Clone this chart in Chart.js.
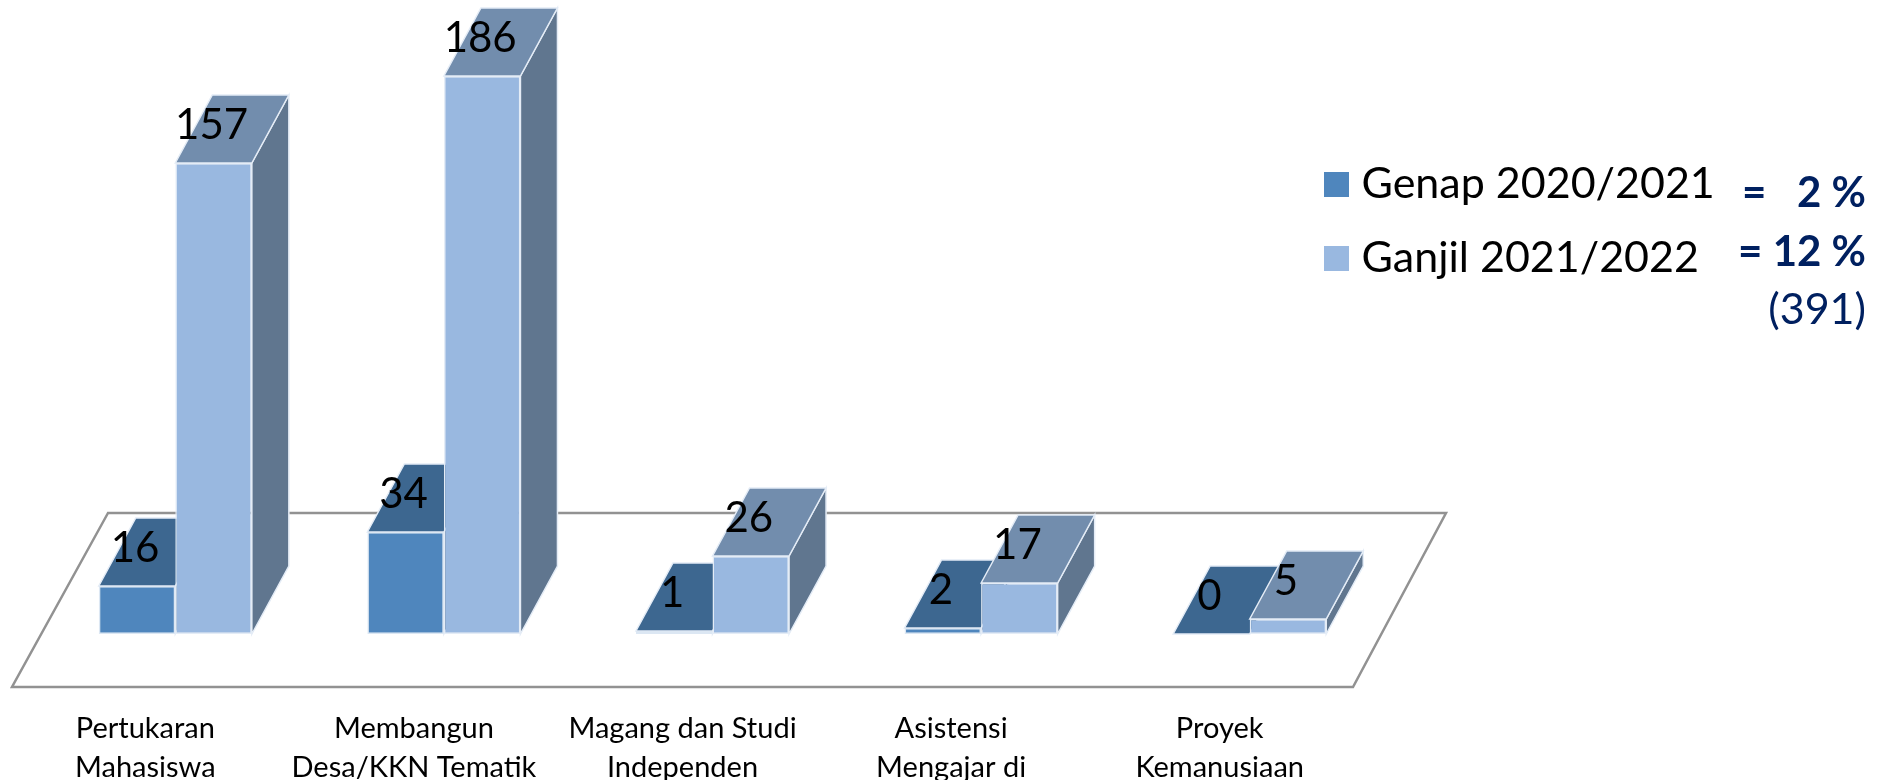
<!DOCTYPE html>
<html><head><meta charset="utf-8">
<style>html,body{margin:0;padding:0;background:#fff}canvas{display:block}</style>
<script src="https://cdn.jsdelivr.net/npm/chart.js@4"></script>
</head><body><canvas id="c" width="1890" height="780"></canvas>
<script>
const categories = [
  ["Pertukaran","Mahasiswa"],
  ["Membangun","Desa/KKN Tematik"],
  ["Magang dan Studi","Independen"],
  ["Asistensi","Mengajar di"],
  ["Proyek","Kemanusiaan"]
];
const genap = [16,34,1,2,0];
const ganjil = [157,186,26,17,5];
const seriesNames = ["Genap 2020/2021","Ganjil 2021/2022"];
const sideNotes = ["=   2 %","= 12 %","(391)"];

const FONT = 'Lato, Carlito, Calibri, sans-serif';
const faces = [
  {front:'#4F86BD', top:'#3D6790', side:'#3A5A7C'},
  {front:'#99B8E0', top:'#728DAD', side:'#60768F'}
];
const DX = 37, DY = 68;

function swatch(color){
  const c = document.createElement('canvas');
  c.width = 25; c.height = 25;
  const g = c.getContext('2d');
  g.fillStyle = color;
  g.fillRect(0,0,25,25);
  return c;
}
const swatches = faces.map(f=>swatch(f.front));

const scene = {
  id:'scene',
  afterLayout(chart){
    const lg = chart.legend, p = lg.options.labels.padding;
    lg.left = 1333 - p;
    lg.top = 163 - p;
    lg.right = 1890;
    lg.bottom = 400;
    lg.width = lg.right - lg.left;
    lg.height = lg.bottom - lg.top;
  },
  beforeDatasetsDraw(chart){
    const ctx = chart.ctx, ya = chart.scales.y, xa = chart.scales.x;
    const base = ya.getPixelForValue(0);
    ctx.save();
    ctx.beginPath();
    ctx.moveTo(xa.left + 67, base - 121);
    ctx.lineTo(xa.left - 29, base + 53);
    ctx.lineTo(xa.left + 1312, base + 53);
    ctx.lineTo(xa.left + 1405, base - 121);
    ctx.closePath();
    ctx.strokeStyle = '#929292';
    ctx.lineWidth = 2.5;
    ctx.lineJoin = 'miter';
    ctx.stroke();
    ctx.strokeStyle = '#E4ECF6';
    ctx.lineWidth = 1.5;
    chart.data.datasets.forEach((ds,i)=>{
      chart.getDatasetMeta(i).data.forEach(b=>{
        const l = b.x - b.width/2, r = b.x + b.width/2, t = b.y, bt = b.base;
        ctx.fillStyle = faces[i].side;
        ctx.beginPath();
        ctx.moveTo(r,bt); ctx.lineTo(r+DX,bt-DY); ctx.lineTo(r+DX,t-DY); ctx.lineTo(r,t); ctx.closePath();
        ctx.fill(); ctx.stroke();
        ctx.fillStyle = faces[i].top;
        ctx.beginPath();
        ctx.moveTo(l,t); ctx.lineTo(l+DX,t-DY); ctx.lineTo(r+DX,t-DY); ctx.lineTo(r,t); ctx.closePath();
        ctx.fill(); ctx.stroke();
      });
    });
    ctx.restore();
  },
  afterDatasetsDraw(chart){
    const ctx = chart.ctx;
    ctx.save();
    ctx.fillStyle = '#000';
    ctx.font = '42px ' + FONT;
    ctx.textAlign = 'center';
    ctx.textBaseline = 'middle';
    chart.data.datasets.forEach((ds,i)=>{
      chart.getDatasetMeta(i).data.forEach((b,j)=>{
        ctx.fillText(String(ds.data[j]), b.x - 2, b.y - 38);
      });
    });
    ctx.fillStyle = '#002060';
    ctx.textAlign = 'right';
    ctx.font = 'bold 42px ' + FONT;
    ctx.fillText(sideNotes[0], 1866, 193);
    ctx.fillText(sideNotes[1], 1866, 252);
    ctx.font = '43px ' + FONT;
    ctx.fillText(sideNotes[2], 1866, 310);
    ctx.restore();
  }
};

new Chart(document.getElementById('c'), {
  type:'bar',
  data:{
    labels:categories,
    datasets:[
      {label:seriesNames[0], data:genap, backgroundColor:faces[0].front, borderColor:'#DCE7F3', borderWidth:1.5, borderSkipped:false},
      {label:seriesNames[1], data:ganjil, backgroundColor:faces[1].front, borderColor:'#E4ECF6', borderWidth:1.5, borderSkipped:false}
    ]
  },
  plugins:[scene],
  options:{
    responsive:false,
    animation:false,
    layout:{padding:{left:41,right:506,top:34,bottom:0}},
    datasets:{bar:{categoryPercentage:0.57,barPercentage:1}},
    scales:{
      x:{
        grid:{display:false},
        border:{display:false},
        afterFit(s){s.height=146;},
        ticks:{
          color:'#000',
          font:{family:FONT,size:29,lineHeight:1.345},
          padding:67,
          labelOffset:-30,
          maxRotation:0,
          autoSkip:false
        }
      },
      y:{display:false,min:0,max:200}
    },
    plugins:{
      tooltip:{enabled:false},
      legend:{
        position:'chartArea',
        align:'start',
        labels:{
          color:'#000',
          font:{family:FONT,size:43},
          usePointStyle:true,
          pointStyleWidth:7,
          boxHeight:25,
          padding:31,
          generateLabels(chart){
            const items = Chart.defaults.plugins.legend.labels.generateLabels(chart);
            items.forEach((it,i)=>{it.pointStyle = swatches[i];});
            return items;
          }
        }
      }
    }
  }
});
</script></body></html>
